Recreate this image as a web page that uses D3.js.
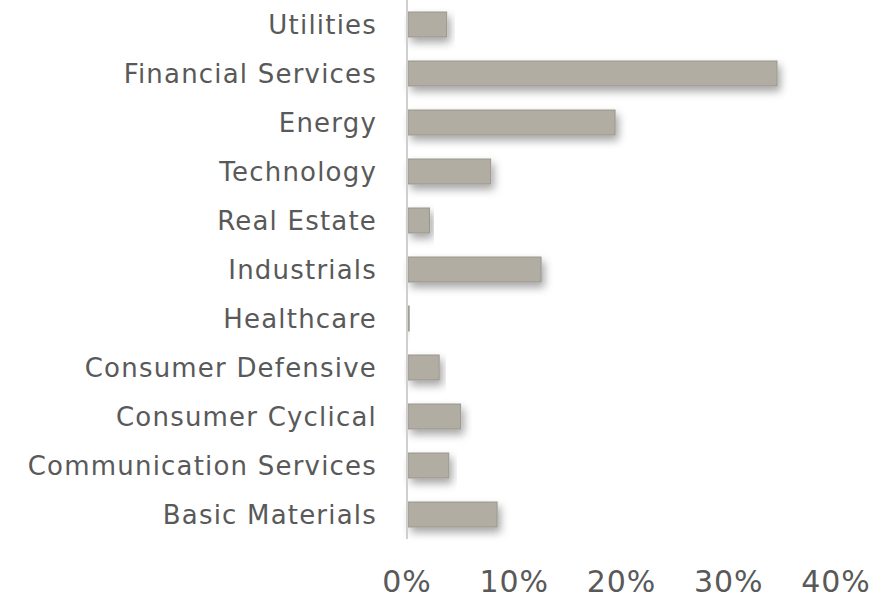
<!DOCTYPE html>
<html>
<head>
    <title>Sector Allocation</title>
    <script src="https://d3js.org/d3.v7.min.js"></script>
    <style type="text/css">
        body {
            margin: 0;
            background-color: #fff;
            font-family: "DejaVu Sans", sans-serif;
        }

        .cat-label {
            fill: #595959;
            font-size: 26px;
            letter-spacing: 1.2px;
            text-anchor: end;
            dominant-baseline: central;
        }

        .tick-label {
            fill: #595959;
            font-size: 30px;
            letter-spacing: 1px;
            text-anchor: middle;
        }

        .bar {
            fill: #b1ada3;
            stroke: #9a968d;
            stroke-width: 1;
        }
    </style>
</head>
<body>

<div id="chart"></div>

<script type="text/javascript">
    const sectors = [
        "Utilities", "Financial Services", "Energy", "Technology", "Real Estate",
        "Industrials", "Healthcare", "Consumer Defensive", "Consumer Cyclical",
        "Communication Services", "Basic Materials"
    ];
    const weights = [3.7, 34.5, 19.4, 7.8, 2.1, 12.5, 0.2, 3.0, 5.0, 3.9, 8.4];
    const xTicks = [0, 10, 20, 30, 40];

    const width = 879, height = 598;

    const svg = d3.select("#chart").append("svg")
        .attr("width", width)
        .attr("height", height);

    // soft shadow under each bar
    const defs = svg.append("defs");
    defs.append("filter")
        .attr("id", "shadow")
        .attr("x", "-10%").attr("y", "-30%")
        .attr("width", "130%").attr("height", "190%")
        .append("feDropShadow")
        .attr("dx", 3)
        .attr("dy", 5)
        .attr("stdDeviation", 4)
        .attr("flood-color", "#000")
        .attr("flood-opacity", 0.35);

    const x = d3.scaleLinear().domain([0, 40]).range([407, 836]);
    const y = d3.scaleBand().domain(sectors).range([0, 539]).paddingInner(0.49).paddingOuter(0.245);

    const data = sectors.map((s, i) => ({ sector: s, value: weights[i] }));

    svg.append("g")
        .selectAll("rect")
        .data(data)
        .join("rect")
        .attr("class", "bar")
        .attr("filter", "url(#shadow)")
        .attr("x", x(0) + 1)
        .attr("y", d => y(d.sector))
        .attr("width", d => Math.max(0.5, x(d.value) - x(0) - 1))
        .attr("height", y.bandwidth());

    // vertical axis line
    svg.append("line")
        .attr("x1", x(0)).attr("x2", x(0))
        .attr("y1", 0).attr("y2", 539)
        .attr("stroke", "#cfcfcf")
        .attr("stroke-width", 2);

    svg.append("g")
        .selectAll("text")
        .data(sectors)
        .join("text")
        .attr("class", "cat-label")
        .attr("x", x(0) - 30)
        .attr("y", d => y(d) + y.bandwidth() / 2)
        .text(d => d);

    svg.append("g")
        .selectAll("text")
        .data(xTicks)
        .join("text")
        .attr("class", "tick-label")
        .attr("x", d => x(d))
        .attr("y", 592)
        .text(d => d + "%");
</script>

</body>
</html>
